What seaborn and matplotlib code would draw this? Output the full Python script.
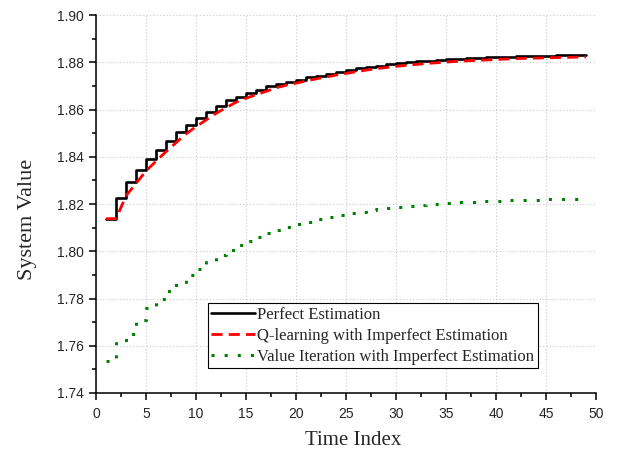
import numpy as np
import pandas as pd
import matplotlib
matplotlib.use('Agg')
import matplotlib.pyplot as plt
from matplotlib.ticker import MultipleLocator
import seaborn as sns

# 数据
time_index = list(range(1, 50))

perfect_est = [1.8138, 1.8227, 1.8292, 1.8344, 1.8389, 1.8429, 1.8468, 1.8506, 1.8535, 1.8563,
               1.8591, 1.8615, 1.8640, 1.8654, 1.8669, 1.8683, 1.8701, 1.8710, 1.8718, 1.8727,
               1.8736, 1.8744, 1.8752, 1.8760, 1.8767, 1.8774, 1.8780, 1.8786, 1.8791, 1.8796,
               1.8800, 1.8804, 1.8807, 1.8810, 1.8813, 1.8815, 1.8817, 1.8819, 1.8821, 1.8822,
               1.8824, 1.8825, 1.8826, 1.8827, 1.8828, 1.8829, 1.8830, 1.8831, 1.8832]

qlearn_est = [1.8138, 1.8138, 1.8235, 1.8288, 1.8340, 1.8382, 1.8422, 1.8460, 1.8497, 1.8528,
              1.8556, 1.8584, 1.8608, 1.8631, 1.8648, 1.8663, 1.8677, 1.8692, 1.8703, 1.8712,
              1.8721, 1.8730, 1.8738, 1.8746, 1.8753, 1.8760, 1.8767, 1.8773, 1.8778, 1.8783,
              1.8787, 1.8791, 1.8795, 1.8798, 1.8801, 1.8804, 1.8806, 1.8808, 1.8810, 1.8812,
              1.8814, 1.8816, 1.8817, 1.8818, 1.8819, 1.8820, 1.8821, 1.8822, 1.8823]

value_iter_est = [1.7536, 1.7610, 1.7650, 1.7710, 1.7760, 1.7800, 1.7830, 1.7870, 1.7900, 1.7925,
                  1.7955, 1.7985, 1.8005, 1.8025, 1.8045, 1.8062, 1.8078, 1.8092, 1.8104, 1.8115,
                  1.8125, 1.8135, 1.8143, 1.8152, 1.8160, 1.8167, 1.8173, 1.8178, 1.8183, 1.8188,
                  1.8192, 1.8196, 1.8199, 1.8202, 1.8205, 1.8207, 1.8209, 1.8211, 1.8213, 1.8214,
                  1.8215, 1.8217, 1.8218, 1.8219, 1.8220, 1.8221, 1.8221, 1.8222, 1.8222]

labels = ['Perfect Estimation',
          'Q-learning with Imperfect Estimation',
          'Value Iteration with Imperfect Estimation']

sns.set_style('white')
plt.rcParams['font.family'] = ['Liberation Sans', 'DejaVu Sans']

fig = plt.figure(figsize=(6.28, 4.58), dpi=100)
ax = fig.add_axes([0.153, 0.142, 0.796, 0.825])

sns.lineplot(x=time_index, y=perfect_est, ax=ax, color='black', linewidth=1.9,
             drawstyle='steps-post', label=labels[0])
sns.lineplot(x=time_index, y=qlearn_est, ax=ax, color='#ff0000', linewidth=2.0,
             linestyle=(0, (4, 2.2)), label=labels[1])
sns.lineplot(x=time_index, y=value_iter_est, ax=ax, color='#008000', linewidth=2.2,
             linestyle=(0, (1, 3.3)), drawstyle='steps-post', label=labels[2])

ax.set_xlim(0, 50)
ax.set_ylim(1.74, 1.90)
ax.xaxis.set_major_locator(MultipleLocator(5))
ax.xaxis.set_minor_locator(MultipleLocator(2.5))
ax.yaxis.set_major_locator(MultipleLocator(0.02))
ax.yaxis.set_minor_locator(MultipleLocator(0.01))
ax.yaxis.set_major_formatter(matplotlib.ticker.FormatStrFormatter('%.2f'))

ax.grid(True, which='major', linestyle=(0, (1, 2)), color='#c8c8c8', linewidth=0.8)
ax.tick_params(which='major', direction='out', length=5, width=1.1, labelsize=10,
               bottom=True, left=True, color='black', pad=4)
ax.tick_params(axis='x', which='major', pad=5)
ax.tick_params(which='minor', direction='out', length=3, width=1.1, bottom=True, left=True,
               color='black')

for s in ['top', 'right']:
    ax.spines[s].set_visible(False)
for s in ['left', 'bottom']:
    ax.spines[s].set_color('black')
    ax.spines[s].set_linewidth(1.1)

ax.set_xlabel('Time Index', fontsize=15, family='Liberation Serif')
ax.set_ylabel('System Value', fontsize=16, family='Liberation Serif')
ax.xaxis.set_label_coords(0.514, -0.100)
ax.yaxis.set_label_coords(-0.118, 0.458)

leg = ax.legend(loc='lower left', bbox_to_anchor=(0.224, 0.066), fancybox=False,
                prop={'family': 'Liberation Serif', 'size': 12}, handlelength=2.6,
                handletextpad=0.15, borderpad=0.2, labelspacing=0.3, borderaxespad=0)
leg.get_frame().set_edgecolor('black')
leg.get_frame().set_linewidth(0.8)
leg.get_frame().set_alpha(1)

fig.savefig('out.png', dpi=100)
